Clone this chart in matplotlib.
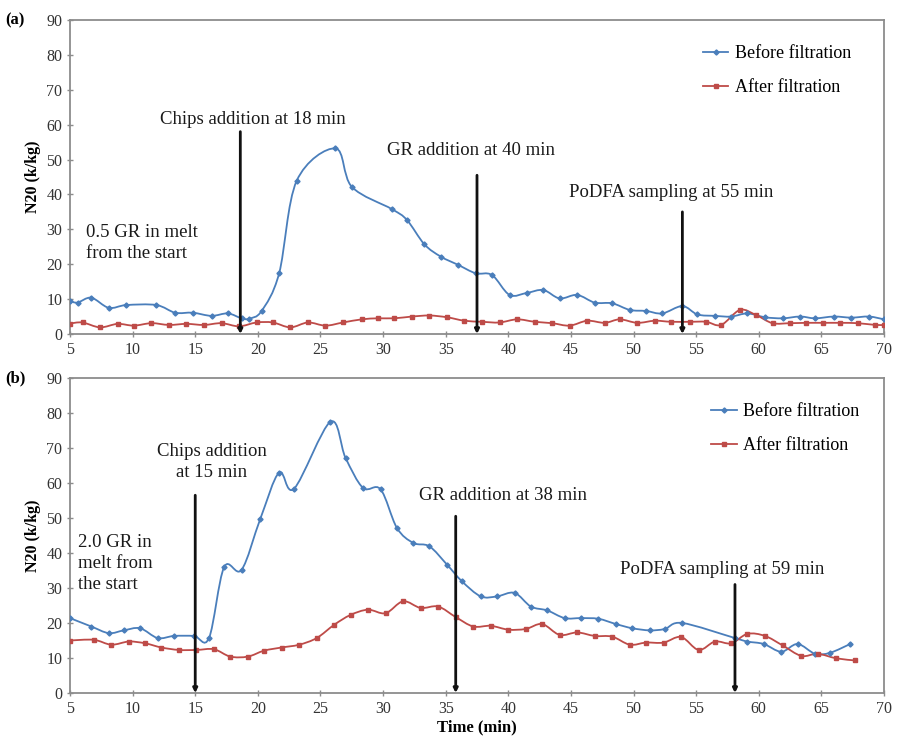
import numpy as np
import matplotlib
matplotlib.use("Agg")
import matplotlib.pyplot as plt
from matplotlib.path import Path
from matplotlib.patches import PathPatch
from matplotlib.lines import Line2D

plt.rcParams['font.family'] = ['Liberation Serif', 'DejaVu Serif']

# ---------------- data ----------------
a_before_x = [5.0, 5.6, 6.7, 8.1, 9.5, 11.9, 13.4, 14.8, 16.3, 17.6, 18.7, 19.3, 20.3, 21.7, 23.1,
              26.2, 27.5, 30.7, 31.9, 33.3, 34.6, 36.0, 37.4, 38.7, 40.1, 41.5, 42.8, 44.1, 45.5,
              46.9, 48.3, 49.7, 51.0, 52.3, 53.9, 55.1, 56.5, 57.8, 59.1, 60.5, 61.9, 63.3, 64.5,
              66.0, 67.4, 68.8, 70.0]
a_before_y = [9.5, 9.0, 10.4, 7.5, 8.3, 8.3, 6.1, 6.1, 5.2, 5.9, 4.5, 4.4, 6.6, 17.4, 43.9,
              53.2, 42.2, 35.8, 32.7, 25.7, 22.2, 19.8, 17.4, 16.9, 11.2, 11.8, 12.6, 10.2, 11.2,
              9.0, 8.8, 6.9, 6.6, 5.9, 8.0, 5.6, 5.2, 5.0, 5.9, 4.8, 4.5, 5.0, 4.5,
              5.0, 4.7, 5.0, 4.2]
a_after_x = [5.0, 6.0, 7.4, 8.8, 10.1, 11.5, 12.9, 14.3, 15.7, 17.1, 18.5, 19.9, 21.2, 22.6, 24.0,
             25.4, 26.8, 28.3, 29.6, 30.9, 32.3, 33.7, 35.1, 36.5, 37.9, 39.3, 40.7, 42.1, 43.5,
             44.9, 46.3, 47.7, 48.9, 50.3, 51.7, 53.0, 54.5, 55.8, 57.0, 58.5, 59.8, 61.1, 62.5,
             63.8, 65.1, 66.5, 67.9, 69.3, 70.0]
a_after_y = [3.0, 3.3, 1.9, 2.9, 2.4, 3.1, 2.6, 2.9, 2.6, 3.1, 2.2, 3.3, 3.3, 1.9, 3.3,
             2.4, 3.3, 4.2, 4.5, 4.5, 5.0, 5.3, 4.8, 3.8, 3.5, 3.3, 4.2, 3.5, 3.1,
             2.4, 3.8, 3.2, 4.2, 3.2, 3.8, 3.5, 3.5, 3.5, 2.6, 6.9, 5.4, 3.1, 3.1,
             3.2, 3.2, 3.2, 3.1, 2.6, 2.6]

b_before_x = [5.0, 6.7, 8.1, 9.3, 10.6, 12.0, 13.3, 14.9, 16.1, 17.3, 18.7, 20.2, 21.7, 22.9, 25.8,
              27.0, 28.4, 29.8, 31.1, 32.4, 33.7, 35.1, 36.3, 37.8, 39.1, 40.5, 41.8, 43.1, 44.5,
              45.8, 47.2, 48.6, 49.9, 51.3, 52.5, 53.9, 58.1, 59.1, 60.4, 61.8, 63.1, 64.5, 65.7, 67.3]
b_before_y = [21.4, 19.0, 17.1, 17.9, 18.5, 15.7, 16.3, 16.3, 15.7, 35.9, 35.2, 49.8, 63.0, 58.4, 77.5,
              67.2, 58.6, 58.2, 47.2, 42.9, 41.9, 36.7, 31.9, 27.6, 27.6, 28.6, 24.7, 23.6, 21.4,
              21.4, 21.2, 19.7, 18.5, 17.9, 18.3, 20.0, 15.7, 14.7, 14.0, 11.8, 14.0, 11.2, 11.5, 14.0]
b_after_x = [5.0, 6.9, 8.3, 9.7, 11.0, 12.3, 13.7, 15.1, 16.5, 17.8, 19.2, 20.5, 21.9, 23.3, 24.7,
             26.1, 27.4, 28.8, 30.2, 31.6, 33.0, 34.4, 35.8, 37.2, 38.6, 40.0, 41.4, 42.7, 44.1,
             45.5, 46.9, 48.3, 49.7, 51.0, 52.4, 53.8, 55.2, 56.5, 57.8, 59.1, 60.5, 61.9, 63.4,
             64.7, 66.2, 67.7]
b_after_y = [15.0, 15.2, 13.8, 14.7, 14.2, 13.0, 12.3, 12.3, 12.5, 10.4, 10.4, 12.1, 13.0, 13.8, 15.7,
             19.5, 22.3, 23.8, 22.8, 26.2, 24.3, 24.7, 21.7, 19.0, 19.2, 18.1, 18.3, 19.7, 16.6,
             17.3, 16.3, 16.1, 13.8, 14.4, 14.4, 16.0, 12.3, 14.7, 14.2, 16.9, 16.3, 13.6, 10.6,
             11.2, 9.9, 9.3]

series_labels = ["Before filtration", "After filtration"]
x_ticks = list(range(5, 71, 5))
y_ticks = list(range(0, 91, 10))

# annotations: (text, text_x, text_y, arrow_x, arrow_top, ha)
a_events = [("Chips addition at 18 min", 19.6, 61.5, 18.6, 58.0, "center"),
            ("GR addition at 40 min", 37.0, 52.5, 37.5, 45.5, "center"),
            ("PoDFA sampling at 55 min", 53.0, 40.5, 53.9, 35.0, "center")]
a_note = ("0.5 GR in melt\nfrom the start", 6.3, 26.0)
b_events = [("Chips addition\nat 15 min", 16.3, 66.0, 15.0, 56.5, "center"),
            ("GR addition at 38 min", 39.6, 56.5, 35.8, 50.5, "center"),
            ("PoDFA sampling at 59 min", 57.1, 35.2, 58.1, 31.0, "center")]
b_note = ("2.0 GR in\nmelt from\nthe start", 5.6, 37.0)

BLUE = "#4a7ebb"
RED = "#be4b48"
GREY = "#8c8c8c"


def smooth_path(x, y):
    p = np.column_stack([x, y]).astype(float)
    n = len(p)
    verts = [p[0]]
    codes = [Path.MOVETO]
    for i in range(n - 1):
        p0 = p[i - 1] if i > 0 else p[i]
        p1 = p[i]
        p2 = p[i + 1]
        p3 = p[i + 2] if i + 2 < n else p[i + 1]
        c1 = p1 + (p2 - p0) / 6.0
        c2 = p2 - (p3 - p1) / 6.0
        verts += [c1, c2, p2]
        codes += [Path.CURVE4] * 3
    return Path(verts, codes)


def draw_series(ax, x, y, color, marker):
    ax.add_patch(PathPatch(smooth_path(x, y), fill=False, edgecolor=color, lw=1.3, zorder=3))
    ax.plot(x, y, linestyle="none", marker=marker, ms=2.6, color=color,
            markeredgecolor=color, zorder=4)


fig = plt.figure(figsize=(9.02, 7.45), dpi=100)
ax_a = fig.add_axes([70 / 902, 1 - 334 / 745, 814 / 902, 314 / 745])
ax_b = fig.add_axes([70 / 902, 1 - 693 / 745, 814 / 902, 315 / 745])


def style(ax):
    ax.set_xlim(5, 70)
    ax.set_ylim(0, 90)
    ax.set_xticks(x_ticks)
    ax.set_yticks(y_ticks)
    for s in ax.spines.values():
        s.set_color(GREY)
        s.set_linewidth(1.3)
    ax.tick_params(axis="both", direction="inout", length=5, width=1, color=GREY,
                   labelsize=11.5, labelcolor="#333333", pad=3)
    ax.set_ylabel("N20 (k/kg)", fontsize=11.5, fontweight="bold", labelpad=4)


def legend(ax, anchor):
    handles = [Line2D([], [], color=BLUE, lw=1.3, marker="D", ms=2.6),
               Line2D([], [], color=RED, lw=1.3, marker="s", ms=2.6)]
    ax.legend(handles, series_labels, loc="upper right", bbox_to_anchor=anchor,
              frameon=False, fontsize=13, handlelength=1.4, handletextpad=0.35,
              labelspacing=0.95, borderpad=0.2)


def events(ax, evs, note):
    for text, tx, ty, axx, atop, ha in evs:
        ax.text(tx, ty, text, ha=ha, va="center", fontsize=13.5, color="#1a1a1a",
                linespacing=1.3, zorder=6)
        ax.annotate("", xy=(axx, 0), xytext=(axx, atop),
                    arrowprops=dict(arrowstyle="-|>", color="#111111", lw=2.0,
                                    mutation_scale=6, shrinkA=0, shrinkB=0), zorder=5)
    ax.text(note[1], note[2], note[0], ha="left", va="center", fontsize=13.5,
            color="#1a1a1a", linespacing=1.3, zorder=6)


for ax in (ax_a, ax_b):
    style(ax)

draw_series(ax_a, a_before_x, a_before_y, BLUE, "D")
draw_series(ax_a, a_after_x, a_after_y, RED, "s")
draw_series(ax_b, b_before_x, b_before_y, BLUE, "D")
draw_series(ax_b, b_after_x, b_after_y, RED, "s")

events(ax_a, a_events, a_note)
events(ax_b, b_events, b_note)

legend(ax_a, (0.975, 0.96))
legend(ax_b, (0.985, 0.96))

ax_b.set_xlabel("Time (min)", fontsize=12, fontweight="bold", labelpad=2)

fig.text(5 / 902, 1 - 20 / 745, "(a)", fontsize=12, fontweight="bold", va="center", ha="left")
fig.text(5 / 902, 1 - 378 / 745, "(b)", fontsize=12, fontweight="bold", va="center", ha="left")

fig.savefig("out.png", dpi=100)
